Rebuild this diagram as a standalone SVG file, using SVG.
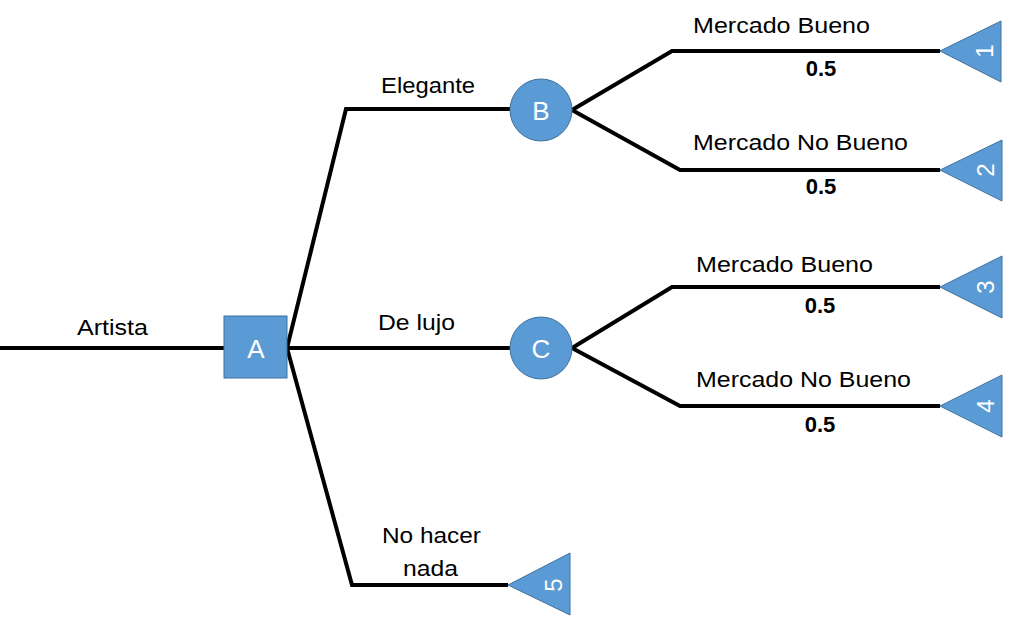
<svg xmlns="http://www.w3.org/2000/svg" width="1024" height="617" viewBox="0 0 1024 617">
<style>
.edge{fill:none;stroke:#000;stroke-width:4;stroke-linejoin:miter}
.node{fill:#5B9BD5;stroke:#41719C;stroke-width:1}
.lbl{font-family:"Liberation Sans",Arial,sans-serif;font-size:22px;fill:#000}
.prob{font-family:"Liberation Sans",Arial,sans-serif;font-size:22px;font-weight:bold;fill:#000;text-anchor:middle}
.nl{font-family:"Liberation Sans",Arial,sans-serif;font-size:26px;fill:#fff;text-anchor:middle}
.tl{font-family:"Liberation Sans",Arial,sans-serif;font-size:24px;fill:#fff;text-anchor:middle}
</style>
<rect width="1024" height="617" fill="#fff"/>
<g id="connectors">
<path class="edge" d="M0 348 H224"/>
<path class="edge" d="M287 348 L346 109 H510"/>
<path class="edge" d="M287 348 H510"/>
<path class="edge" d="M287 348 L352 585 H508"/>
<path class="edge" d="M572 110 L672 51 H940"/>
<path class="edge" d="M572 110 L680 170 H940"/>
<path class="edge" d="M572 348 L672 287 H940"/>
<path class="edge" d="M572 348 L680 406 H940"/>
</g>
<g id="labels">
<text class="lbl" x="77" y="335" textLength="71" lengthAdjust="spacingAndGlyphs">Artista</text>
<text class="lbl" x="381" y="93" textLength="94" lengthAdjust="spacingAndGlyphs">Elegante</text>
<text class="lbl" x="378" y="330" textLength="77" lengthAdjust="spacingAndGlyphs">De lujo</text>
<text class="lbl" x="382" y="543" textLength="99" lengthAdjust="spacingAndGlyphs">No hacer</text>
<text class="lbl" x="403" y="576" textLength="55" lengthAdjust="spacingAndGlyphs">nada</text>
<text class="lbl" x="693" y="33" textLength="177" lengthAdjust="spacingAndGlyphs">Mercado Bueno</text>
<text class="prob" x="821" y="76">0.5</text>
<text class="lbl" x="693" y="150" textLength="215" lengthAdjust="spacingAndGlyphs">Mercado No Bueno</text>
<text class="prob" x="821" y="194">0.5</text>
<text class="lbl" x="696" y="272" textLength="177" lengthAdjust="spacingAndGlyphs">Mercado Bueno</text>
<text class="prob" x="820" y="313">0.5</text>
<text class="lbl" x="696" y="387" textLength="215" lengthAdjust="spacingAndGlyphs">Mercado No Bueno</text>
<text class="prob" x="820" y="432">0.5</text>
</g>
<g id="node-A">
<rect class="node" x="224" y="316" width="63" height="62"/>
<text class="nl" x="256" y="358">A</text>
</g>
<g id="node-B">
<circle class="node" cx="541" cy="110" r="31"/>
<text class="nl" x="541" y="120">B</text>
</g>
<g id="node-C">
<circle class="node" cx="541" cy="348" r="31"/>
<text class="nl" x="541" y="358">C</text>
</g>
<g id="node-1">
<polygon class="node" points="940,51 1001,21 1001,82"/>
<text class="tl" transform="translate(993,51) rotate(-90)">1</text>
</g>
<g id="node-2">
<polygon class="node" points="940,170 1002,140 1002,201"/>
<text class="tl" transform="translate(994,170) rotate(-90)">2</text>
</g>
<g id="node-3">
<polygon class="node" points="940,287 1002,256 1002,318"/>
<text class="tl" transform="translate(994,287) rotate(-90)">3</text>
</g>
<g id="node-4">
<polygon class="node" points="940,406 1002,375 1002,437"/>
<text class="tl" transform="translate(994,406) rotate(-90)">4</text>
</g>
<g id="node-5">
<polygon class="node" points="508,585 570,553 570,615"/>
<text class="tl" transform="translate(562,585) rotate(-90)">5</text>
</g>
</svg>
